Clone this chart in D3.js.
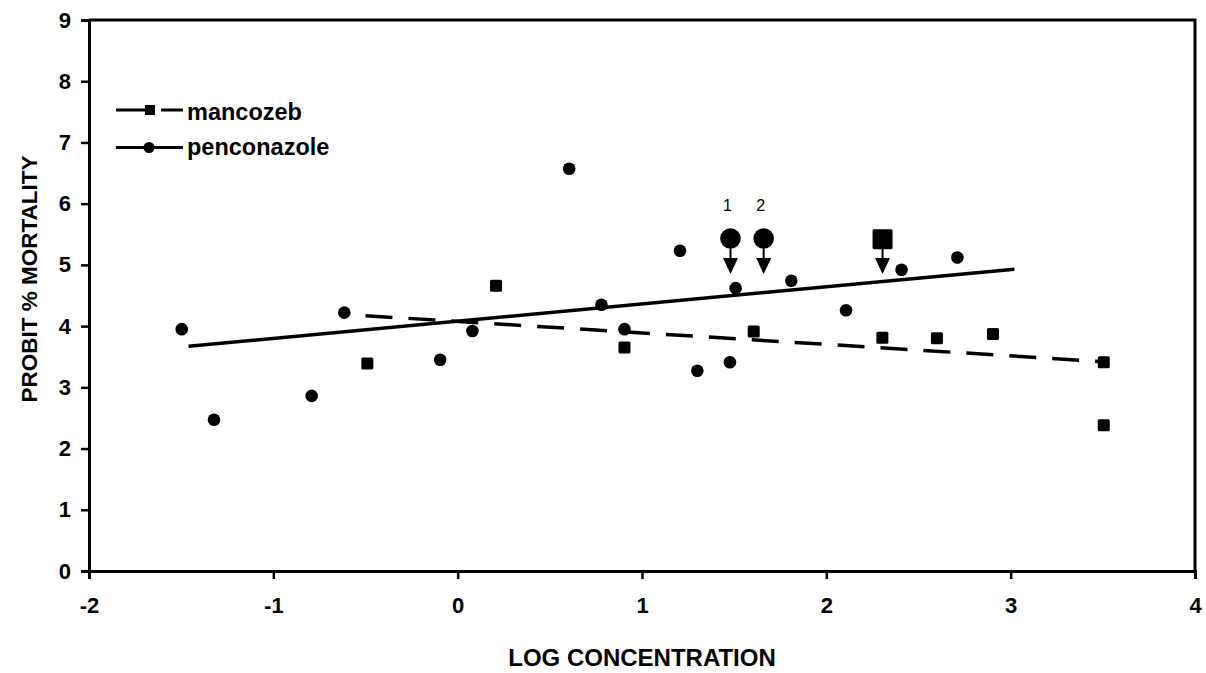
<!DOCTYPE html>
<html>
<head>
<meta charset="utf-8">
<script src="https://cdn.jsdelivr.net/npm/d3@7"></script>
<style>
  body { margin: 0; background: #fff; overflow: hidden; }
  text { font-family: "Liberation Sans", Arial, sans-serif; }
</style>
</head>
<body>
<div id="chart"></div>
<script>
// data
var mancozebX = [-0.49, 0.208, 0.905, 1.606, 2.304, 2.6, 2.904, 3.505, 3.505];
var mancozebY = [3.39, 4.66, 3.65, 3.91, 3.81, 3.8, 3.87, 3.41, 2.38];

var penconazoleX = [-1.497, -1.322, -0.792, -0.615, -0.095, 0.08, 0.605, 0.78, 0.905,
  1.206, 1.3, 1.477, 1.508, 1.81, 2.107, 2.408, 2.711];
var penconazoleY = [3.95, 2.47, 2.86, 4.22, 3.45, 3.92, 6.57, 4.35, 3.95,
  5.23, 3.27, 3.41, 4.62, 4.74, 4.26, 4.92, 5.12];

// fitted lines (end points)
var mancozebFitX = [-0.5, 3.5];
var mancozebFitY = [4.17, 3.42];
var penconazoleFitX = [-1.46, 3.02];
var penconazoleFitY = [3.67, 4.93];

// marked values with arrows (1, 2 = penconazole, square = mancozeb)
var markX = [1.48, 1.66, 2.305];
var markY = [5.43, 5.43, 5.42];
var markTipY = [4.85, 4.85, 4.85];
var markShape = ["circle", "circle", "square"];
var markLabel = ["1", "2", ""];

var xTicks = [-2, -1, 0, 1, 2, 3, 4];
var yTicks = [0, 1, 2, 3, 4, 5, 6, 7, 8, 9];

var margin = { top: 20, right: 11, bottom: 102, left: 89 },
  width = 1206 - margin.left - margin.right,
  height = 673 - margin.top - margin.bottom;

var svg = d3
  .select("#chart")
  .append("svg")
  .attr("width", 1206)
  .attr("height", 673)
  .style("display", "block");

var g = svg
  .append("g")
  .attr("transform", "translate(" + margin.left + "," + margin.top + ")");

var x = d3.scaleLinear().domain([-2, 4]).range([0, width]);
var y = d3.scaleLinear().domain([0, 9]).range([height, 0]);

// plain hyphen for negatives, like the original
var fmt = function (d) { return String(d); };

var xAxis = g
  .append("g")
  .attr("transform", "translate(0," + height + ")")
  .call(d3.axisBottom(x).tickValues(xTicks).tickSize(8).tickPadding(23).tickFormat(fmt));

var yAxis = g
  .append("g")
  .call(d3.axisLeft(y).tickValues(yTicks).tickSize(8).tickPadding(10).tickFormat(fmt));

[xAxis, yAxis].forEach(function (a) {
  a.select(".domain").attr("stroke", "#000").attr("stroke-width", 3);
  a.selectAll(".tick line").attr("stroke", "#000").attr("stroke-width", 2.5);
  a.selectAll(".tick text")
    .attr("fill", "#000")
    .style("font-size", "22px")
    .style("font-weight", "bold");
});
xAxis.selectAll(".tick text").attr("dy", "0.5em");

// top and right border of the box
g.append("path")
  .attr("d", "M0,0H" + width + "V" + height)
  .attr("fill", "none")
  .attr("stroke", "#000")
  .attr("stroke-width", 3);

// axis titles
svg
  .append("text")
  .attr("x", margin.left + width / 2)
  .attr("y", 666)
  .attr("text-anchor", "middle")
  .style("font-size", "24px")
  .style("font-weight", "bold")
  .text("LOG CONCENTRATION");

svg
  .append("text")
  .attr("transform", "translate(37,279) rotate(-90)")
  .attr("text-anchor", "middle")
  .style("font-size", "22.5px")
  .style("font-weight", "bold")
  .text("PROBIT % MORTALITY");

// fitted lines
var line = d3.line()
  .x(function (d) { return x(d[0]); })
  .y(function (d) { return y(d[1]); });

g.append("path")
  .datum(d3.zip(mancozebFitX, mancozebFitY))
  .attr("d", line)
  .attr("fill", "none")
  .attr("stroke", "#000")
  .attr("stroke-width", 3.5)
  .attr("stroke-dasharray", "27,16");

g.append("path")
  .datum(d3.zip(penconazoleFitX, penconazoleFitY))
  .attr("d", line)
  .attr("fill", "none")
  .attr("stroke", "#000")
  .attr("stroke-width", 3.5);

// points
g.selectAll(".sq")
  .data(d3.zip(mancozebX, mancozebY))
  .enter()
  .append("rect")
  .attr("class", "sq")
  .attr("x", function (d) { return x(d[0]) - 6; })
  .attr("y", function (d) { return y(d[1]) - 6; })
  .attr("width", 12)
  .attr("height", 12)
  .attr("rx", 1.5)
  .attr("fill", "#000");

g.selectAll(".dot")
  .data(d3.zip(penconazoleX, penconazoleY))
  .enter()
  .append("circle")
  .attr("class", "dot")
  .attr("cx", function (d) { return x(d[0]); })
  .attr("cy", function (d) { return y(d[1]); })
  .attr("r", 6.3)
  .attr("fill", "#000");

// arrow marks
var marks = markX.map(function (v, i) {
  return { x: v, y: markY[i], tip: markTipY[i], shape: markShape[i], label: markLabel[i] };
});

var mk = g.selectAll(".mark").data(marks).enter().append("g").attr("class", "mark");

mk.append("line")
  .attr("x1", function (d) { return x(d.x); })
  .attr("x2", function (d) { return x(d.x); })
  .attr("y1", function (d) { return y(d.y); })
  .attr("y2", function (d) { return y(d.tip) - 14; })
  .attr("stroke", "#000")
  .attr("stroke-width", 2);

mk.append("path")
  .attr("d", function (d) {
    var cx = x(d.x), ty = y(d.tip);
    return "M" + (cx - 7.5) + "," + (ty - 16) + "L" + (cx + 7.5) + "," + (ty - 16) + "L" + cx + "," + ty + "Z";
  })
  .attr("fill", "#000");

mk.filter(function (d) { return d.shape === "circle"; })
  .append("circle")
  .attr("cx", function (d) { return x(d.x); })
  .attr("cy", function (d) { return y(d.y); })
  .attr("r", 10.3)
  .attr("fill", "#000");

mk.filter(function (d) { return d.shape === "square"; })
  .append("rect")
  .attr("x", function (d) { return x(d.x) - 10; })
  .attr("y", function (d) { return y(d.y) - 10; })
  .attr("width", 20)
  .attr("height", 20)
  .attr("rx", 1.5)
  .attr("fill", "#000");

mk.append("text")
  .attr("x", function (d) { return x(d.x) - 3; })
  .attr("y", function (d) { return y(d.y) - 28; })
  .attr("text-anchor", "middle")
  .style("font-size", "16px")
  .text(function (d) { return d.label; });

// legend
var legend = svg.append("g");

legend.append("line")
  .attr("x1", 116).attr("x2", 183)
  .attr("y1", 110).attr("y2", 110)
  .attr("stroke", "#000")
  .attr("stroke-width", 3)
  .attr("stroke-dasharray", "39,6");
legend.append("rect")
  .attr("x", 145).attr("y", 105)
  .attr("width", 10).attr("height", 10)
  .attr("fill", "#000");
legend.append("text")
  .attr("x", 187).attr("y", 120)
  .style("font-size", "23.5px")
  .style("font-weight", "bold")
  .text("mancozeb");

legend.append("line")
  .attr("x1", 116).attr("x2", 183)
  .attr("y1", 147.5).attr("y2", 147.5)
  .attr("stroke", "#000")
  .attr("stroke-width", 3);
legend.append("circle")
  .attr("cx", 149).attr("cy", 147.5)
  .attr("r", 5.5)
  .attr("fill", "#000");
legend.append("text")
  .attr("x", 187).attr("y", 154.5)
  .style("font-size", "23.5px")
  .style("font-weight", "bold")
  .text("penconazole");
</script>
</body>
</html>
